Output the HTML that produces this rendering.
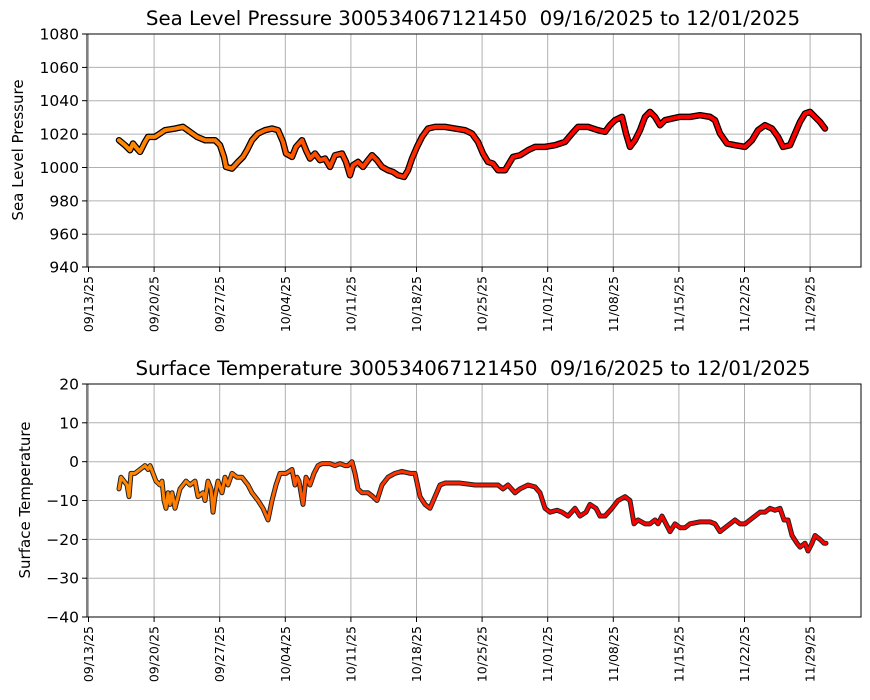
<!DOCTYPE html>
<html><head><meta charset="utf-8"><style>
body{margin:0;background:#fff}
svg{display:block;font-family:"DejaVu Sans","Liberation Sans",sans-serif}
</style></head><body>
<svg width="870" height="700" viewBox="0 0 870 700">
<defs>
<linearGradient id="g" gradientUnits="userSpaceOnUse" x1="119" y1="0" x2="560" y2="0">
<stop offset="0" stop-color="#ff8c00"/><stop offset="0.3" stop-color="#ff7000"/><stop offset="0.45" stop-color="#ff4a00"/><stop offset="1" stop-color="#ff0000"/>
</linearGradient>
</defs>
<rect width="870" height="700" fill="#fff"/>
<!-- TOP -->
<g stroke="#b0b0b0" stroke-width="1">
<line x1="87" x2="861" y1="67.4" y2="67.4"/><line x1="87" x2="861" y1="100.7" y2="100.7"/><line x1="87" x2="861" y1="134.1" y2="134.1"/><line x1="87" x2="861" y1="167.5" y2="167.5"/><line x1="87" x2="861" y1="200.9" y2="200.9"/><line x1="87" x2="861" y1="234.2" y2="234.2"/>
<line x1="154.1" x2="154.1" y1="34" y2="267"/><line x1="219.7" x2="219.7" y1="34" y2="267"/><line x1="285.3" x2="285.3" y1="34" y2="267"/><line x1="350.9" x2="350.9" y1="34" y2="267"/><line x1="416.5" x2="416.5" y1="34" y2="267"/><line x1="482.1" x2="482.1" y1="34" y2="267"/><line x1="547.7" x2="547.7" y1="34" y2="267"/><line x1="613.3" x2="613.3" y1="34" y2="267"/><line x1="678.9" x2="678.9" y1="34" y2="267"/><line x1="744.5" x2="744.5" y1="34" y2="267"/><line x1="810.1" x2="810.1" y1="34" y2="267"/>
<line x1="88.5" x2="88.5" y1="34" y2="267"/>
</g>
<g transform="matrix(1 0 0 -1.668 0 1834.9)" fill="none" stroke-linejoin="round" stroke-linecap="round">
<polyline vector-effect="non-scaling-stroke" stroke="#000" stroke-width="6.5" points="119,1016 125,1013 130,1010 133,1014 137,1011 140,1009 145,1015 148,1018 155,1018 160,1020 165,1022 175,1023 183,1024 190,1021 197,1018 205,1016 215,1016 220,1013 224,1006 226,1000 232,999 238,1003 243,1006 247,1010 252,1016 258,1020 265,1022 272,1023 278,1022 283,1015 286,1008 292,1006 296,1012 302,1016 306,1010 310,1005 315,1008 320,1004 325,1005 330,1000 335,1007 342,1008 346,1003 350,995 353,1001 358,1003 363,1000 368,1004 372,1007 377,1004 382,1000 388,998 393,997 398,995 404,994 408,998 412,1005 417,1012 422,1018 428,1023 435,1024 445,1024 455,1023 465,1022 472,1020 478,1015 483,1008 488,1003 493,1002 498,998 505,998 510,1003 513,1006 520,1007 528,1010 535,1012 545,1012 555,1013 565,1015 572,1020 578,1024 588,1024 598,1022 605,1021 610,1025 615,1028 622,1030 626,1020 630,1012 635,1016 640,1022 645,1030 650,1033 655,1030 660,1025 665,1028 672,1029 680,1030 690,1030 700,1031 710,1030 715,1028 720,1020 727,1014 735,1013 745,1012 752,1016 758,1022 765,1025 772,1023 778,1018 783,1012 790,1013 795,1020 800,1027 805,1032 810,1033 815,1030 820,1027 825,1023"/>
<polyline vector-effect="non-scaling-stroke" stroke="url(#g)" stroke-width="4" points="119,1016 125,1013 130,1010 133,1014 137,1011 140,1009 145,1015 148,1018 155,1018 160,1020 165,1022 175,1023 183,1024 190,1021 197,1018 205,1016 215,1016 220,1013 224,1006 226,1000 232,999 238,1003 243,1006 247,1010 252,1016 258,1020 265,1022 272,1023 278,1022 283,1015 286,1008 292,1006 296,1012 302,1016 306,1010 310,1005 315,1008 320,1004 325,1005 330,1000 335,1007 342,1008 346,1003 350,995 353,1001 358,1003 363,1000 368,1004 372,1007 377,1004 382,1000 388,998 393,997 398,995 404,994 408,998 412,1005 417,1012 422,1018 428,1023 435,1024 445,1024 455,1023 465,1022 472,1020 478,1015 483,1008 488,1003 493,1002 498,998 505,998 510,1003 513,1006 520,1007 528,1010 535,1012 545,1012 555,1013 565,1015 572,1020 578,1024 588,1024 598,1022 605,1021 610,1025 615,1028 622,1030 626,1020 630,1012 635,1016 640,1022 645,1030 650,1033 655,1030 660,1025 665,1028 672,1029 680,1030 690,1030 700,1031 710,1030 715,1028 720,1020 727,1014 735,1013 745,1012 752,1016 758,1022 765,1025 772,1023 778,1018 783,1012 790,1013 795,1020 800,1027 805,1032 810,1033 815,1030 820,1027 825,1023"/>
</g>
<rect x="87" y="34" width="774" height="233" fill="none" stroke="#000" stroke-width="1"/>
<g stroke="#000"><line x1="82" x2="87" y1="34" y2="34"/><line x1="82" x2="87" y1="67.4" y2="67.4"/><line x1="82" x2="87" y1="100.7" y2="100.7"/><line x1="82" x2="87" y1="134.1" y2="134.1"/><line x1="82" x2="87" y1="167.5" y2="167.5"/><line x1="82" x2="87" y1="200.9" y2="200.9"/><line x1="82" x2="87" y1="234.2" y2="234.2"/><line x1="82" x2="87" y1="267" y2="267"/></g>
<g font-size="15.5" text-anchor="end" fill="#000"><text x="79" y="39.5">1080</text><text x="79" y="73">1060</text><text x="79" y="106">1040</text><text x="79" y="139.5">1020</text><text x="79" y="173">1000</text><text x="79" y="206.5">980</text><text x="79" y="239.5">960</text><text x="79" y="272.5">940</text></g>
<text x="473" y="25" font-size="19.8" text-anchor="middle">Sea Level Pressure 300534067121450&#160; 09/16/2025 to 12/01/2025</text>
<text transform="translate(23,150) rotate(-90)" font-size="15" text-anchor="middle">Sea Level Pressure</text>
<g stroke="#000"><line x1="88.5" x2="88.5" y1="267" y2="272"/><line x1="154.1" x2="154.1" y1="267" y2="272"/><line x1="219.7" x2="219.7" y1="267" y2="272"/><line x1="285.3" x2="285.3" y1="267" y2="272"/><line x1="350.9" x2="350.9" y1="267" y2="272"/><line x1="416.5" x2="416.5" y1="267" y2="272"/><line x1="482.1" x2="482.1" y1="267" y2="272"/><line x1="547.7" x2="547.7" y1="267" y2="272"/><line x1="613.3" x2="613.3" y1="267" y2="272"/><line x1="678.9" x2="678.9" y1="267" y2="272"/><line x1="744.5" x2="744.5" y1="267" y2="272"/><line x1="810.1" x2="810.1" y1="267" y2="272"/></g>
<g font-size="12.5" text-anchor="end">
<text transform="translate(93,276) rotate(-90)">09/13/25</text><text transform="translate(158.6,276) rotate(-90)">09/20/25</text><text transform="translate(224.2,276) rotate(-90)">09/27/25</text><text transform="translate(289.8,276) rotate(-90)">10/04/25</text><text transform="translate(355.4,276) rotate(-90)">10/11/25</text><text transform="translate(421,276) rotate(-90)">10/18/25</text><text transform="translate(486.6,276) rotate(-90)">10/25/25</text><text transform="translate(552.2,276) rotate(-90)">11/01/25</text><text transform="translate(617.8,276) rotate(-90)">11/08/25</text><text transform="translate(683.4,276) rotate(-90)">11/15/25</text><text transform="translate(749,276) rotate(-90)">11/22/25</text><text transform="translate(814.6,276) rotate(-90)">11/29/25</text>
</g>
<!-- BOTTOM -->
<g stroke="#b0b0b0" stroke-width="1">
<line x1="87" x2="861" y1="422.8" y2="422.8"/><line x1="87" x2="861" y1="461.7" y2="461.7"/><line x1="87" x2="861" y1="500.5" y2="500.5"/><line x1="87" x2="861" y1="539.4" y2="539.4"/><line x1="87" x2="861" y1="578.2" y2="578.2"/>
<line x1="154.1" x2="154.1" y1="384" y2="617"/><line x1="219.7" x2="219.7" y1="384" y2="617"/><line x1="285.3" x2="285.3" y1="384" y2="617"/><line x1="350.9" x2="350.9" y1="384" y2="617"/><line x1="416.5" x2="416.5" y1="384" y2="617"/><line x1="482.1" x2="482.1" y1="384" y2="617"/><line x1="547.7" x2="547.7" y1="384" y2="617"/><line x1="613.3" x2="613.3" y1="384" y2="617"/><line x1="678.9" x2="678.9" y1="384" y2="617"/><line x1="744.5" x2="744.5" y1="384" y2="617"/><line x1="810.1" x2="810.1" y1="384" y2="617"/>
<line x1="88.5" x2="88.5" y1="384" y2="617"/>
</g>
<g transform="matrix(1 0 0 -3.883 0 461.7)" fill="none" stroke-linejoin="round" stroke-linecap="round">
<polyline vector-effect="non-scaling-stroke" stroke="#222" stroke-width="5" points="119,-7 121,-4 124,-5 127,-6 129,-9 131,-3 135,-3 140,-2 145,-1 148,-2 150,-1 153,-3 156,-5 160,-6 162,-5 164,-10 166,-12 168,-8 170,-11 172,-8 175,-12 177,-10 180,-7 183,-6 186,-5 190,-6 195,-5 198,-9 203,-8 205,-10 208,-5 211,-7 213,-13 215,-9 218,-5 222,-8 225,-4 228,-6 232,-3 237,-4 242,-4 248,-6 252,-8 258,-10 263,-12 268,-15 272,-10 276,-6 280,-3 286,-3 292,-2 295,-6 297,-4 299,-5 303,-11 306,-4 310,-6 314,-3 318,-1 322,-0.5 330,-0.5 335,-1 340,-0.5 345,-1 348,-1 352,0 355,-3 358,-7 362,-8 368,-8 373,-9 377,-10 382,-6 388,-4 395,-3 402,-2.5 410,-3 415,-3 420,-9 425,-11 430,-12 435,-9 440,-6 445,-5.5 460,-5.5 475,-6 485,-6 492,-6 498,-6 503,-7 508,-6 515,-8 520,-7 528,-6 535,-6.5 540,-8 545,-12 550,-13 557,-12.5 562,-13 568,-14 575,-12 580,-14 586,-13 590,-11 596,-12 600,-14 605,-14 612,-12 618,-10 625,-9 630,-10 634,-16 638,-15 645,-16 650,-16 655,-15 658,-16 662,-14 666,-16 670,-18 675,-16 680,-17 685,-17 690,-16 700,-15.5 710,-15.5 715,-16 720,-18 725,-17 730,-16 735,-15 740,-16 745,-16 750,-15 755,-14 760,-13 765,-13 770,-12 775,-12.5 780,-12 784,-15 788,-15 792,-19 797,-21 800,-22 805,-21 808,-23 812,-21 815,-19 820,-20 824,-21 826,-21"/>
<polyline vector-effect="non-scaling-stroke" stroke="url(#g)" stroke-width="3" points="119,-7 121,-4 124,-5 127,-6 129,-9 131,-3 135,-3 140,-2 145,-1 148,-2 150,-1 153,-3 156,-5 160,-6 162,-5 164,-10 166,-12 168,-8 170,-11 172,-8 175,-12 177,-10 180,-7 183,-6 186,-5 190,-6 195,-5 198,-9 203,-8 205,-10 208,-5 211,-7 213,-13 215,-9 218,-5 222,-8 225,-4 228,-6 232,-3 237,-4 242,-4 248,-6 252,-8 258,-10 263,-12 268,-15 272,-10 276,-6 280,-3 286,-3 292,-2 295,-6 297,-4 299,-5 303,-11 306,-4 310,-6 314,-3 318,-1 322,-0.5 330,-0.5 335,-1 340,-0.5 345,-1 348,-1 352,0 355,-3 358,-7 362,-8 368,-8 373,-9 377,-10 382,-6 388,-4 395,-3 402,-2.5 410,-3 415,-3 420,-9 425,-11 430,-12 435,-9 440,-6 445,-5.5 460,-5.5 475,-6 485,-6 492,-6 498,-6 503,-7 508,-6 515,-8 520,-7 528,-6 535,-6.5 540,-8 545,-12 550,-13 557,-12.5 562,-13 568,-14 575,-12 580,-14 586,-13 590,-11 596,-12 600,-14 605,-14 612,-12 618,-10 625,-9 630,-10 634,-16 638,-15 645,-16 650,-16 655,-15 658,-16 662,-14 666,-16 670,-18 675,-16 680,-17 685,-17 690,-16 700,-15.5 710,-15.5 715,-16 720,-18 725,-17 730,-16 735,-15 740,-16 745,-16 750,-15 755,-14 760,-13 765,-13 770,-12 775,-12.5 780,-12 784,-15 788,-15 792,-19 797,-21 800,-22 805,-21 808,-23 812,-21 815,-19 820,-20 824,-21 826,-21"/>
</g>
<rect x="87" y="384" width="774" height="233" fill="none" stroke="#000" stroke-width="1"/>
<g stroke="#000"><line x1="82" x2="87" y1="384" y2="384"/><line x1="82" x2="87" y1="422.8" y2="422.8"/><line x1="82" x2="87" y1="461.7" y2="461.7"/><line x1="82" x2="87" y1="500.5" y2="500.5"/><line x1="82" x2="87" y1="539.4" y2="539.4"/><line x1="82" x2="87" y1="578.2" y2="578.2"/><line x1="82" x2="87" y1="617" y2="617"/></g>
<g font-size="15.5" text-anchor="end"><text x="79" y="389.5">20</text><text x="79" y="428.5">10</text><text x="79" y="467">0</text><text x="79" y="506">−10</text><text x="79" y="545">−20</text><text x="79" y="583.5">−30</text><text x="79" y="622.5">−40</text></g>
<text x="473" y="375" font-size="19.8" text-anchor="middle">Surface Temperature 300534067121450&#160; 09/16/2025 to 12/01/2025</text>
<text transform="translate(30,500) rotate(-90)" font-size="15" text-anchor="middle">Surface Temperature</text>
<g stroke="#000"><line x1="88.5" x2="88.5" y1="617" y2="622"/><line x1="154.1" x2="154.1" y1="617" y2="622"/><line x1="219.7" x2="219.7" y1="617" y2="622"/><line x1="285.3" x2="285.3" y1="617" y2="622"/><line x1="350.9" x2="350.9" y1="617" y2="622"/><line x1="416.5" x2="416.5" y1="617" y2="622"/><line x1="482.1" x2="482.1" y1="617" y2="622"/><line x1="547.7" x2="547.7" y1="617" y2="622"/><line x1="613.3" x2="613.3" y1="617" y2="622"/><line x1="678.9" x2="678.9" y1="617" y2="622"/><line x1="744.5" x2="744.5" y1="617" y2="622"/><line x1="810.1" x2="810.1" y1="617" y2="622"/></g>
<g font-size="12.5" text-anchor="end">
<text transform="translate(93,626) rotate(-90)">09/13/25</text><text transform="translate(158.6,626) rotate(-90)">09/20/25</text><text transform="translate(224.2,626) rotate(-90)">09/27/25</text><text transform="translate(289.8,626) rotate(-90)">10/04/25</text><text transform="translate(355.4,626) rotate(-90)">10/11/25</text><text transform="translate(421,626) rotate(-90)">10/18/25</text><text transform="translate(486.6,626) rotate(-90)">10/25/25</text><text transform="translate(552.2,626) rotate(-90)">11/01/25</text><text transform="translate(617.8,626) rotate(-90)">11/08/25</text><text transform="translate(683.4,626) rotate(-90)">11/15/25</text><text transform="translate(749,626) rotate(-90)">11/22/25</text><text transform="translate(814.6,626) rotate(-90)">11/29/25</text>
</g>
</svg>
</body></html>
